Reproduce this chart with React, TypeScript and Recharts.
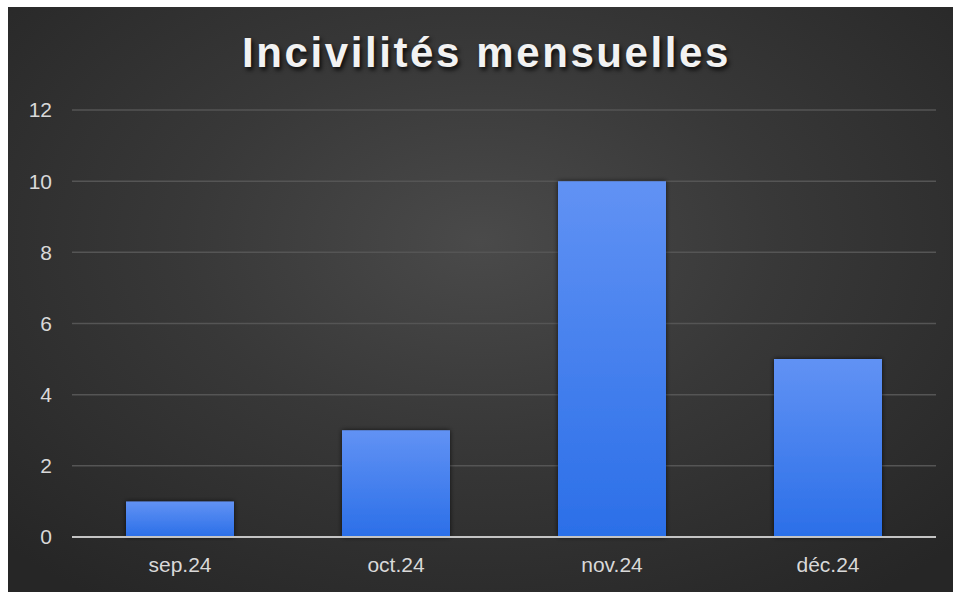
import { BarChart, Bar, XAxis, YAxis, CartesianGrid } from 'recharts'

const months = ['sep.24', 'oct.24', 'nov.24', 'déc.24']
const incidents = [1, 3, 10, 5]
const yTicks = [0, 2, 4, 6, 8, 10, 12]

const data = months.map((m, i) => ({ month: m, value: incidents[i] }))

export default function App() {
  return (
    <div
      style={{
        position: 'absolute',
        top: 7,
        left: 8,
        width: 945,
        height: 585,
        background: 'radial-gradient(ellipse 70% 75% at 50% 40%, #4a4a4a 0%, #383838 45%, #262626 100%)',
        fontFamily: '"Liberation Sans", Arial, sans-serif',
      }}
    >
      <div
        style={{
          position: 'absolute',
          top: 22,
          left: 6,
          width: 945,
          textAlign: 'center',
          color: '#f2f2f2',
          fontSize: 42,
          fontWeight: 'bold',
          letterSpacing: 2.6,
          textShadow: '2px 3px 4px rgba(0,0,0,0.8)',
        }}
      >
        Incivilités mensuelles
      </div>
      <BarChart
        width={945}
        height={585}
        data={data}
        margin={{ top: 103, right: 17, left: 0, bottom: 25 }}
        barCategoryGap="25%"
      >
        <defs>
          <linearGradient id="barFill" x1="0" y1="0" x2="0" y2="1">
            <stop offset="0%" stopColor="#6192f4" />
            <stop offset="100%" stopColor="#2b6fe8" />
          </linearGradient>
          <filter id="barShadow" x="-10%" y="-10%" width="120%" height="120%">
            <feDropShadow dx="0" dy="0" stdDeviation="2.5" floodColor="#000" floodOpacity="0.7" />
          </filter>
        </defs>
        <CartesianGrid vertical={false} stroke="#555555" strokeWidth={1.5} />
        <XAxis
          dataKey="month"
          axisLine={{ stroke: '#c4c4c4', strokeWidth: 2 }}
          tickLine={false}
          height={30}
          tickMargin={14}
          tick={{ fill: '#d9d9d9', fontSize: 21 }}
        />
        <YAxis
          domain={[0, 12]}
          ticks={yTicks}
          width={64}
          axisLine={false}
          tickLine={false}
          tickSize={0}
          tickMargin={20}
          tick={{ fill: '#d9d9d9', fontSize: 21 }}
        />
        <Bar
          dataKey="value"
          fill="url(#barFill)"
          filter="url(#barShadow)"
          isAnimationActive={false}
        />
      </BarChart>
    </div>
  )
}
